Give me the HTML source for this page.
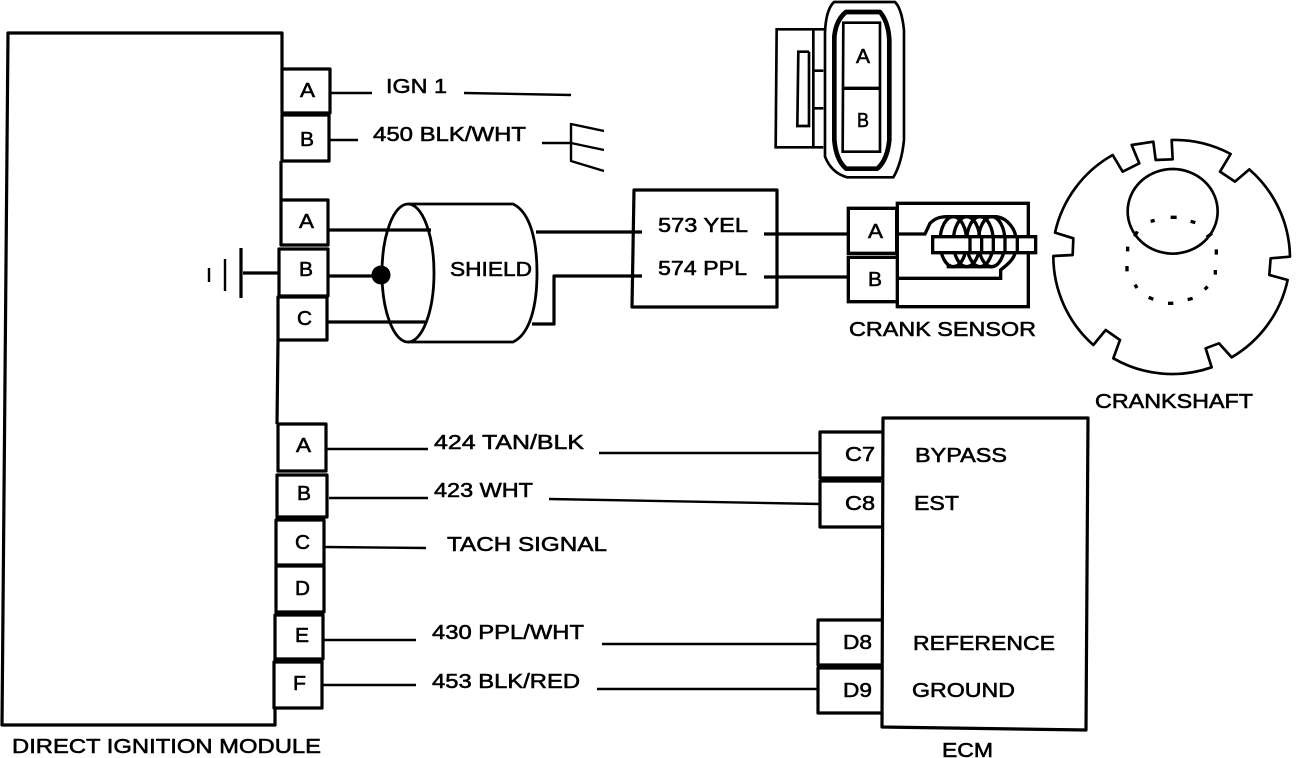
<!DOCTYPE html>
<html><head><meta charset="utf-8"><style>
html,body{margin:0;padding:0;background:#fff}
svg{display:block}
text{font-family:"Liberation Sans",sans-serif;font-size:20px;fill:#000;stroke:#000;stroke-width:.55px}
.l{fill:none;stroke:#000;stroke-width:2.4;stroke-linejoin:round}
.t{fill:none;stroke:#000;stroke-width:3.2;stroke-linejoin:round}
</style></head><body>
<svg width="1312" height="758" viewBox="0 0 1312 758" xmlns="http://www.w3.org/2000/svg">
<!-- module -->
<path class="t" d="M282 69V33H8L2 725H275V708M281 161V200M278 340L277 424M275 659V662" />
<!-- boxes -->
<path class="t" d="M282 69H330V113H282ZM282 115H329V161H282Z"/>
<path class="t" d="M281 200H328V245H281ZM279 249H328V296H279ZM278 297H327V340H278Z"/>
<path class="t" d="M278 424H326V471H278ZM277 475H327V517H277ZM276 520H324V565H276ZM276 566H324V612H276ZM275 615H323V659H275ZM274 662H322V708H274Z"/>
<!-- upper wires -->
<path class="l" d="M330 93H372M464 93L571 95M329 140H358M542 143H571"/>
<path class="l" d="M604 131L571 124V161L604 171M571 143L604 150"/>
<!-- ground -->
<path class="t" d="M243 273H279M241 248V298"/>
<path class="l" d="M225 259V291M209 268V282"/>
<!-- shield -->
<ellipse class="t" cx="408" cy="273" rx="26" ry="69" style="stroke-width:2.8"/>
<path class="t" style="stroke-width:2.8" d="M408 204H513C530 212 537 240 537 273C537 306 530 334 513 342H408"/>
<path class="t" d="M328 230H431M327 276H381M327 322H425"/>
<circle cx="381" cy="275" r="9.5" fill="#000"/>
<path class="t" d="M536 232H642M532 324H554V276H642"/>
<!-- junction -->
<path class="t" d="M634 190H777V307H632Z"/>
<path class="t" d="M764 234H849M764 277H849"/>
<!-- sensor -->
<g transform="translate(840 190) scale(.3333)" fill="none" stroke="#000" stroke-width="10">
<path d="M172 40H565V350H172ZM25 55H170V190H25ZM25 202H172V335H25ZM172 132H255L270 100C285 85 300 80 320 80H470C505 85 525 120 527 140M172 265H482V240C500 225 520 210 525 190"/>
<ellipse cx="340" cy="155" rx="40" ry="75"/>
<ellipse cx="380" cy="155" rx="40" ry="75"/>
<ellipse cx="420" cy="155" rx="40" ry="75"/>
<ellipse cx="455" cy="155" rx="40" ry="75"/>
<path d="M320 230H460"/>
<path fill="#fff" d="M278 140H587V188H278Z"/>
<path d="M390 140V188M425 140V188M460 140V188M495 140V188M532 140V188"/>
</g>
<!-- connector -->
<g transform="translate(760 0) scale(.3333)" fill="none" stroke="#000">
<path stroke-width="8" d="M195 88H50L47 442H190M160 88V442M160 212H190M160 325H190M147 155H115L112 378H147V155"/>
<path stroke-width="8" stroke-linejoin="round" d="M222 6H405Q425 25 432 90V420Q425 490 400 532H262Q215 520 195 470V100Q197 30 222 6Z"/>
<path stroke-width="14" stroke-linejoin="round" d="M258 36H360Q385 65 388 120V420Q382 480 352 506H258Q228 480 223 420V110Q228 60 258 36Z"/>
<path stroke-width="8" d="M250 68H360V455H248Z"/>
<path stroke-width="10" d="M250 265H360"/>
</g>
<!-- wheel -->
<g transform="translate(1040 130) scale(.3333)" fill="none" stroke="#000" stroke-width="8">
<path stroke-linejoin="round" d="M395 30A355 355 0 0 1 572 72L540 125L585 155L628 118A355 355 0 0 1 750 380L692 385L688 435L743 450A355 355 0 0 1 575 682L537 640L497 655L515 712A355 355 0 0 1 220 685L240 630L197 600L160 645A355 355 0 0 1 40 378L98 375L100 325L45 308A355 355 0 0 1 218 75L248 125L298 100L275 45L340 35L347 90L398 88Z"/>
<ellipse cx="398" cy="244" rx="135" ry="127"/>
<path stroke-width="10" d="M332 274L344 271M392 262H410M452 274L466 278M263 350V364M261 408V424M285 464L291 474M326 502L340 508M384 520H400M443 509L458 505M494 478L503 470M526 420V434M529 358V374M284 320L292 304M500 322L516 310"/>
</g>
<!-- lower wires -->
<path class="l" d="M326 449H428M599 453H820M329 498H428M549 499L820 504M324 547L426 548M323 640H416M602 644H818M322 685H416M597 689H818"/>
<!-- ecm -->
<path class="t" d="M883 418H1088L1086 730L882 727Z"/>
<path class="t" d="M883 432H820V478H883M881 481H820V527H881M882 620H818V665H882M882 668H818V713H882"/>
<!-- labels -->
<text lengthAdjust="spacingAndGlyphs" x="856" y="63" textLength="14">A</text>
<text lengthAdjust="spacingAndGlyphs" x="857" y="127" textLength="12">B</text>
<text lengthAdjust="spacingAndGlyphs" x="300" y="97" textLength="15">A</text>
<text lengthAdjust="spacingAndGlyphs" x="300" y="146" textLength="14">B</text>
<text lengthAdjust="spacingAndGlyphs" x="299" y="228" textLength="15">A</text>
<text lengthAdjust="spacingAndGlyphs" x="299" y="276" textLength="14">B</text>
<text lengthAdjust="spacingAndGlyphs" x="297" y="325" textLength="15">C</text>
<text lengthAdjust="spacingAndGlyphs" x="296" y="452" textLength="15">A</text>
<text lengthAdjust="spacingAndGlyphs" x="297" y="500" textLength="14">B</text>
<text lengthAdjust="spacingAndGlyphs" x="295" y="549" textLength="15">C</text>
<text lengthAdjust="spacingAndGlyphs" x="295" y="595" textLength="15">D</text>
<text lengthAdjust="spacingAndGlyphs" x="295" y="642" textLength="14">E</text>
<text lengthAdjust="spacingAndGlyphs" x="293" y="690" textLength="13">F</text>
<text lengthAdjust="spacingAndGlyphs" x="868" y="238" textLength="15">A</text>
<text lengthAdjust="spacingAndGlyphs" x="868" y="286" textLength="14">B</text>
<text lengthAdjust="spacingAndGlyphs" x="386" y="93" textLength="61">IGN 1</text>
<text lengthAdjust="spacingAndGlyphs" x="373" y="141" textLength="153">450 BLK/WHT</text>
<text lengthAdjust="spacingAndGlyphs" x="450" y="276" textLength="82">SHIELD</text>
<text lengthAdjust="spacingAndGlyphs" x="658" y="232" textLength="90">573 YEL</text>
<text lengthAdjust="spacingAndGlyphs" x="658" y="275" textLength="89">574 PPL</text>
<text lengthAdjust="spacingAndGlyphs" x="849" y="336" textLength="187">CRANK SENSOR</text>
<text lengthAdjust="spacingAndGlyphs" x="1095" y="408" textLength="158">CRANKSHAFT</text>
<text lengthAdjust="spacingAndGlyphs" x="434" y="449" textLength="150">424 TAN/BLK</text>
<text lengthAdjust="spacingAndGlyphs" x="434" y="497" textLength="99">423 WHT</text>
<text lengthAdjust="spacingAndGlyphs" x="447" y="551" textLength="160">TACH SIGNAL</text>
<text lengthAdjust="spacingAndGlyphs" x="432" y="639" textLength="152">430 PPL/WHT</text>
<text lengthAdjust="spacingAndGlyphs" x="432" y="688" textLength="148">453 BLK/RED</text>
<text lengthAdjust="spacingAndGlyphs" x="845" y="461" textLength="30">C7</text>
<text lengthAdjust="spacingAndGlyphs" x="845" y="510" textLength="30">C8</text>
<text lengthAdjust="spacingAndGlyphs" x="843" y="649" textLength="29">D8</text>
<text lengthAdjust="spacingAndGlyphs" x="843" y="697" textLength="29">D9</text>
<text lengthAdjust="spacingAndGlyphs" x="915" y="462" textLength="92">BYPASS</text>
<text lengthAdjust="spacingAndGlyphs" x="914" y="510" textLength="45">EST</text>
<text lengthAdjust="spacingAndGlyphs" x="913" y="650" textLength="142">REFERENCE</text>
<text lengthAdjust="spacingAndGlyphs" x="912" y="697" textLength="103">GROUND</text>
<text lengthAdjust="spacingAndGlyphs" x="12" y="753" textLength="309">DIRECT IGNITION MODULE</text>
<text lengthAdjust="spacingAndGlyphs" x="942" y="757" textLength="51">ECM</text>
</svg>
</body></html>
